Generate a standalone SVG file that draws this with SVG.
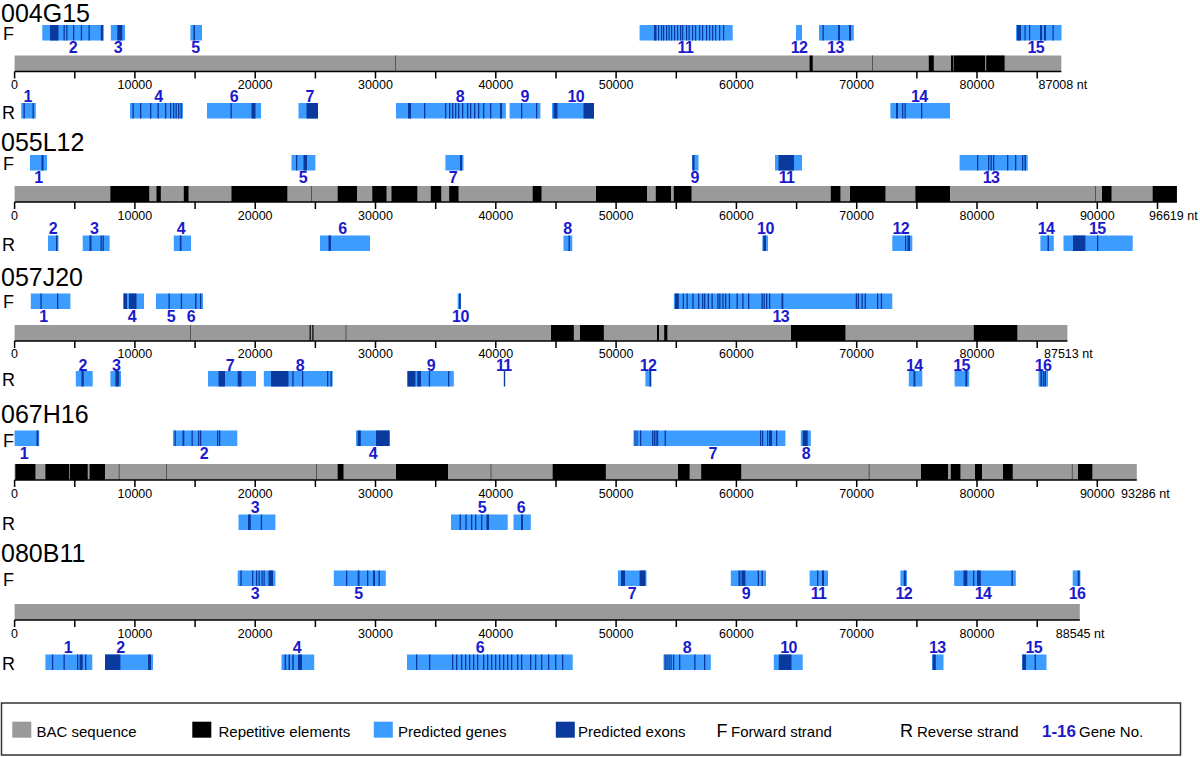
<svg xmlns="http://www.w3.org/2000/svg" width="1200" height="757" viewBox="0 0 1200 757">
<style>
text{font-family:"Liberation Sans",Arial,sans-serif;fill:#000}
.t{font-size:25px}
.s{font-size:18px}
.ax{font-size:12.5px;text-anchor:middle}
.axe{font-size:12.5px}
.n{font-size:16px;font-weight:bold;fill:#1a1acc;text-anchor:middle;letter-spacing:-0.6px}
.row rect{height:15.5px}
.bg rect{height:16px}
.g{fill:#3d9cff}
.e{fill:#0a3a9e}
.bar{fill:#9a9a9a}
.rep{fill:#000}
.thin{fill:#555}
.axis{stroke:#000;stroke-width:1.5;fill:none}
.lg{font-size:15px}
</style>

<!-- ============ 004G15 ============ -->
<g id="bac-004G15">
<text class="t" x="1" y="21.5">004G15</text>
<text class="s" x="3" y="39.5">F</text>
<text class="s" x="2" y="118.5">R</text>
<g class="bg" transform="translate(0,55.5)">
<rect class="bar" x="14.6" width="1046.7"/>
<rect class="thin" x="395" width="1"/>
<rect class="rep" x="809.6" width="3.1"/>
<rect class="thin" x="872" width="1"/>
<rect class="rep" x="928.8" width="5"/>
<rect class="rep" x="951" width="2"/>
<rect class="rep" x="953.6" width="31.5"/>
<rect class="rep" x="986.2" width="18.4"/>
</g>
<g transform="translate(0,71.5)">
<path class="axis" d="M14.6 0H1061.3M14.6 0v7M74.8 0v7M134.9 0v7M195.1 0v7M255.2 0v7M315.4 0v7M375.5 0v7M435.7 0v7M495.8 0v7M556 0v7M616.1 0v7M676.3 0v7M736.4 0v7M796.6 0v7M856.7 0v7M916.9 0v7M977 0v7M1037.2 0v7"/>
<text class="ax" x="14.6" y="17.5">0</text><text class="ax" x="134.9" y="17.5">10000</text><text class="ax" x="255.2" y="17.5">20000</text><text class="ax" x="375.5" y="17.5">30000</text><text class="ax" x="495.8" y="17.5">40000</text><text class="ax" x="616.1" y="17.5">50000</text><text class="ax" x="736.4" y="17.5">60000</text><text class="ax" x="856.7" y="17.5">70000</text><text class="ax" x="977" y="17.5">80000</text>
<text class="axe" x="1038.5" y="17.5">87008 nt</text>
</g>
<g class="row" transform="translate(0,25)">
<g id="g004G15-F2"><rect class="g" x="42.3" width="61.5"/><rect class="e" x="50" width="8.5"/><rect class="e" x="63.5" width="1.3"/><rect class="e" x="66.2" width="1.3"/><rect class="e" x="73" width="1.3"/><rect class="e" x="80.8" width="1.3"/><rect class="e" x="88.5" width="1.3"/><rect class="e" x="100.8" width="2.2"/><text class="n" x="73" y="28">2</text></g>
<g id="g004G15-F3"><rect class="g" x="110.8" width="14.2"/><rect class="e" x="117.3" width="5"/><text class="n" x="118" y="28">3</text></g>
<g id="g004G15-F5"><rect class="g" x="190.4" width="11.6"/><rect class="e" x="193.5" width="1.5"/><text class="n" x="195.4" y="28">5</text></g>
<g id="g004G15-F11"><rect class="g" x="639.6" width="93.1"/><rect class="e" x="654" width="2.5"/><rect class="e" x="658" width="1.2"/><rect class="e" x="661" width="1.2"/><rect class="e" x="663" width="1.2"/><rect class="e" x="666" width="1.2"/><rect class="e" x="668.5" width="1.2"/><rect class="e" x="671" width="1.2"/><rect class="e" x="674" width="1.2"/><rect class="e" x="677" width="1.2"/><rect class="e" x="680" width="1.2"/><rect class="e" x="682" width="1.2"/><rect class="e" x="686" width="1.2"/><rect class="e" x="688.5" width="1.2"/><rect class="e" x="692" width="1.2"/><rect class="e" x="695" width="1.2"/><rect class="e" x="699" width="1.2"/><rect class="e" x="702" width="1.2"/><rect class="e" x="706" width="1.2"/><rect class="e" x="709" width="1.2"/><rect class="e" x="712" width="1.2"/><rect class="e" x="715" width="1.2"/><rect class="e" x="719" width="1.2"/><rect class="e" x="723" width="1.2"/><text class="n" x="685.4" y="28">11</text></g>
<g id="g004G15-F12"><rect class="g" x="796" width="6"/><text class="n" x="799" y="28">12</text></g>
<g id="g004G15-F13"><rect class="g" x="819" width="34.8"/><rect class="e" x="822.5" width="1.3"/><rect class="e" x="838" width="2"/><rect class="e" x="849" width="2"/><text class="n" x="835.4" y="28">13</text></g>
<g id="g004G15-F15"><rect class="g" x="1016" width="45.5"/><rect class="e" x="1017" width="4"/><rect class="e" x="1024.5" width="1.2"/><rect class="e" x="1029" width="1.2"/><rect class="e" x="1040" width="2"/><rect class="e" x="1044" width="2"/><rect class="e" x="1052.5" width="1.2"/><text class="n" x="1035.8" y="28">15</text></g>
</g>
<g class="row" transform="translate(0,103)">
<g id="g004G15-R1"><rect class="g" x="21.2" width="14.6"/><rect class="e" x="23.5" width="1.3"/><rect class="e" x="32.5" width="1.3"/><text class="n" x="27.7" y="-1.5">1</text></g>
<g id="g004G15-R4"><rect class="g" x="130" width="53"/><rect class="e" x="132.5" width="1.3"/><rect class="e" x="140" width="1.3"/><rect class="e" x="150" width="1.3"/><rect class="e" x="157.5" width="1.3"/><rect class="e" x="165" width="1.3"/><rect class="e" x="170" width="1.3"/><rect class="e" x="173" width="1.3"/><rect class="e" x="175.5" width="1.3"/><rect class="e" x="178" width="1.3"/><rect class="e" x="180.5" width="1.3"/><text class="n" x="158.5" y="-1.5">4</text></g>
<g id="g004G15-R6"><rect class="g" x="207" width="54"/><rect class="e" x="230.5" width="1.3"/><rect class="e" x="251.5" width="4"/><text class="n" x="234" y="-1.5">6</text></g>
<g id="g004G15-R7"><rect class="g" x="298.5" width="19.5"/><rect class="e" x="306.5" width="11.5"/><text class="n" x="309.6" y="-1.5">7</text></g>
<g id="g004G15-R8"><rect class="g" x="396" width="109.8"/><rect class="e" x="408" width="3"/><rect class="e" x="424" width="1.3"/><rect class="e" x="445" width="1.3"/><rect class="e" x="449" width="1.3"/><rect class="e" x="452" width="1.3"/><rect class="e" x="455" width="1.3"/><rect class="e" x="458" width="1.3"/><rect class="e" x="462" width="1.3"/><rect class="e" x="467" width="1.3"/><rect class="e" x="470" width="1.3"/><rect class="e" x="474" width="1.3"/><rect class="e" x="478" width="1.3"/><rect class="e" x="483" width="1.3"/><rect class="e" x="490" width="1.3"/><rect class="e" x="500" width="2"/><text class="n" x="460" y="-1.5">8</text></g>
<g id="g004G15-R9"><rect class="g" x="509.6" width="30.8"/><rect class="e" x="521" width="1.3"/><rect class="e" x="536" width="1.3"/><text class="n" x="524.6" y="-1.5">9</text></g>
<g id="g004G15-R10"><rect class="g" x="552" width="42"/><rect class="e" x="553.5" width="4"/><rect class="e" x="583.5" width="10.5"/><text class="n" x="575.8" y="-1.5">10</text></g>
<g id="g004G15-R14"><rect class="g" x="890.4" width="59.6"/><rect class="e" x="896" width="2"/><rect class="e" x="902" width="1.3"/><rect class="e" x="904.5" width="1.3"/><rect class="e" x="921" width="1.3"/><text class="n" x="919.2" y="-1.5">14</text></g>
</g>
</g>

<!-- ============ 055L12 ============ -->
<g id="bac-055L12">
<text class="t" x="1" y="150.5">055L12</text>
<text class="s" x="3" y="170">F</text>
<text class="s" x="2" y="251">R</text>
<g class="bg" transform="translate(0,186)">
<rect class="bar" x="14.6" width="1162.3"/>
<rect class="rep" x="110.4" width="38.8"/>
<rect class="rep" x="156.5" width="4.3"/>
<rect class="rep" x="183.8" width="4.7"/>
<rect class="rep" x="231.5" width="55.8"/>
<rect class="thin" x="311" width="1"/>
<rect class="rep" x="337.7" width="19.3"/>
<rect class="rep" x="372.3" width="14.2"/>
<rect class="rep" x="391.5" width="25.8"/>
<rect class="rep" x="430.8" width="10.4"/>
<rect class="rep" x="449.2" width="9.3"/>
<rect class="rep" x="532.7" width="8.8"/>
<rect class="rep" x="596" width="51"/>
<rect class="rep" x="655.8" width="15.2"/>
<rect class="rep" x="673.8" width="17.7"/>
<rect class="rep" x="830.8" width="9.6"/>
<rect class="rep" x="850" width="35.4"/>
<rect class="rep" x="915.4" width="34.6"/>
<rect class="thin" x="1095" width="1"/>
<rect class="rep" x="1102" width="9.5"/>
<rect class="rep" x="1152.7" width="24.2"/>
</g>
<g transform="translate(0,202)">
<path class="axis" d="M14.6 0H1176.9M14.6 0v7M74.8 0v7M134.9 0v7M195.1 0v7M255.2 0v7M315.4 0v7M375.5 0v7M435.7 0v7M495.8 0v7M556 0v7M616.1 0v7M676.3 0v7M736.4 0v7M796.6 0v7M856.7 0v7M916.9 0v7M977 0v7M1037.2 0v7M1097.3 0v7M1157.5 0v7"/>
<text class="ax" x="14.6" y="17.5">0</text><text class="ax" x="134.9" y="17.5">10000</text><text class="ax" x="255.2" y="17.5">20000</text><text class="ax" x="375.5" y="17.5">30000</text><text class="ax" x="495.8" y="17.5">40000</text><text class="ax" x="616.1" y="17.5">50000</text><text class="ax" x="736.4" y="17.5">60000</text><text class="ax" x="856.7" y="17.5">70000</text><text class="ax" x="977" y="17.5">80000</text><text class="ax" x="1097.3" y="17.5">90000</text>
<text class="axe" x="1149" y="17.5">96619 nt</text>
</g>
<g class="row" transform="translate(0,155)">
<g id="g055L12-F1"><rect class="g" x="30" width="17"/><rect class="e" x="41.5" width="2"/><text class="n" x="38.5" y="28">1</text></g>
<g id="g055L12-F5"><rect class="g" x="291.5" width="23.9"/><rect class="e" x="296" width="1.3"/><rect class="e" x="303.5" width="3.5"/><text class="n" x="303" y="28">5</text></g>
<g id="g055L12-F7"><rect class="g" x="445.4" width="18.1"/><rect class="e" x="460" width="2"/><text class="n" x="453" y="28">7</text></g>
<g id="g055L12-F9"><rect class="g" x="692.3" width="6.2"/><rect class="e" x="692.3" width="2.2"/><text class="n" x="694.6" y="28">9</text></g>
<g id="g055L12-F11"><rect class="g" x="775" width="27"/><rect class="e" x="778.5" width="15.5"/><text class="n" x="786.5" y="28">11</text></g>
<g id="g055L12-F13"><rect class="g" x="959.6" width="68.1"/><rect class="e" x="977" width="1.3"/><rect class="e" x="988" width="1.3"/><rect class="e" x="990.5" width="1.3"/><rect class="e" x="993" width="1.3"/><rect class="e" x="1007" width="1.3"/><rect class="e" x="1015" width="1.3"/><rect class="e" x="1022" width="1.3"/><rect class="e" x="1024.5" width="1.5"/><text class="n" x="991" y="28">13</text></g>
</g>
<g class="row" transform="translate(0,235.5)">
<g id="g055L12-R2"><rect class="g" x="48" width="10.5"/><rect class="e" x="56" width="1.5"/><text class="n" x="53" y="-1.5">2</text></g>
<g id="g055L12-R3"><rect class="g" x="82.7" width="26.9"/><rect class="e" x="89.5" width="2"/><rect class="e" x="100.5" width="1.3"/><rect class="e" x="102.5" width="1.3"/><text class="n" x="94.2" y="-1.5">3</text></g>
<g id="g055L12-R4"><rect class="g" x="173.8" width="17.2"/><rect class="e" x="179.8" width="1.7"/><text class="n" x="180.8" y="-1.5">4</text></g>
<g id="g055L12-R6"><rect class="g" x="320" width="50"/><rect class="e" x="328.5" width="2.5"/><text class="n" x="342.3" y="-1.5">6</text></g>
<g id="g055L12-R8"><rect class="g" x="563.5" width="8.8"/><rect class="e" x="568.5" width="1.5"/><text class="n" x="567.3" y="-1.5">8</text></g>
<g id="g055L12-R10"><rect class="g" x="762.3" width="5.7"/><rect class="e" x="763.3" width="2.7"/><text class="n" x="765.4" y="-1.5">10</text></g>
<g id="g055L12-R12"><rect class="g" x="892.3" width="20"/><rect class="e" x="905" width="1.2"/><rect class="e" x="907.5" width="2.5"/><text class="n" x="900.8" y="-1.5">12</text></g>
<g id="g055L12-R14"><rect class="g" x="1040.4" width="13.4"/><rect class="e" x="1047.5" width="1.5"/><text class="n" x="1046" y="-1.5">14</text></g>
<g id="g055L12-R15"><rect class="g" x="1063.5" width="69.2"/><rect class="e" x="1073" width="12.4"/><rect class="e" x="1097" width="1.3"/><text class="n" x="1097.3" y="-1.5">15</text></g>
</g>
</g>

<!-- ============ 057J20 ============ -->
<g id="bac-057J20">
<text class="t" x="1" y="286">057J20</text>
<text class="s" x="3" y="308">F</text>
<text class="s" x="2" y="386">R</text>
<g class="bg" transform="translate(0,325)">
<rect class="bar" x="14.6" width="1052.8"/>
<rect class="thin" x="190" width="1"/>
<rect class="rep" x="309.6" width="1.2"/>
<rect class="rep" x="312.3" width="1.2"/>
<rect class="thin" x="345.5" width="1"/>
<rect class="rep" x="551" width="22.8"/>
<rect class="rep" x="580" width="23.8"/>
<rect class="rep" x="657" width="2"/>
<rect class="rep" x="664.2" width="3.1"/>
<rect class="rep" x="791" width="54.4"/>
<rect class="rep" x="973.8" width="43.5"/>
</g>
<g transform="translate(0,341)">
<path class="axis" d="M14.6 0H1067.4M14.6 0v7M74.8 0v7M134.9 0v7M195.1 0v7M255.2 0v7M315.4 0v7M375.5 0v7M435.7 0v7M495.8 0v7M556 0v7M616.1 0v7M676.3 0v7M736.4 0v7M796.6 0v7M856.7 0v7M916.9 0v7M977 0v7M1037.2 0v7"/>
<text class="ax" x="14.6" y="17">0</text><text class="ax" x="134.9" y="17">10000</text><text class="ax" x="255.2" y="17">20000</text><text class="ax" x="375.5" y="17">30000</text><text class="ax" x="495.8" y="17">40000</text><text class="ax" x="616.1" y="17">50000</text><text class="ax" x="736.4" y="17">60000</text><text class="ax" x="856.7" y="17">70000</text><text class="ax" x="977" y="17">80000</text>
<text class="axe" x="1044" y="17">87513 nt</text>
</g>
<g class="row" transform="translate(0,293.5)">
<g id="g057J20-F1"><rect class="g" x="30.8" width="39.6"/><rect class="e" x="40.4" width="1.3"/><rect class="e" x="57" width="1.3"/><text class="n" x="43.5" y="28">1</text></g>
<g id="g057J20-F4"><rect class="g" x="123" width="21"/><rect class="e" x="123.8" width="3.2"/><rect class="e" x="129" width="7.5"/><text class="n" x="132" y="28">4</text></g>
<g id="g057J20-F5"><rect class="g" x="156" width="29"/><rect class="e" x="168.5" width="1.3"/><rect class="e" x="180.8" width="1.3"/><text class="n" x="171" y="28">5</text></g>
<g id="g057J20-F6"><rect class="g" x="185" width="18"/><rect class="e" x="195" width="1.5"/><rect class="e" x="200" width="1.3"/><text class="n" x="191" y="28">6</text></g>
<g id="g057J20-F10"><rect class="g" x="457.7" width="3.1"/><rect class="e" x="459" width="1.8"/><text class="n" x="460.4" y="28">10</text></g>
<g id="g057J20-F13"><rect class="g" x="673.8" width="218.5"/><rect class="e" x="675" width="3.8"/><rect class="e" x="682.7" width="1.3"/><rect class="e" x="686.5" width="1.3"/><rect class="e" x="692.3" width="1.3"/><rect class="e" x="698" width="1.3"/><rect class="e" x="702" width="1.3"/><rect class="e" x="704" width="1.3"/><rect class="e" x="707.7" width="1.3"/><rect class="e" x="711.5" width="1.3"/><rect class="e" x="717.3" width="1.3"/><rect class="e" x="719.2" width="1.3"/><rect class="e" x="722.3" width="1.3"/><rect class="e" x="725" width="1.3"/><rect class="e" x="728.8" width="1.3"/><rect class="e" x="736.5" width="1.3"/><rect class="e" x="742.3" width="1.3"/><rect class="e" x="748" width="1.3"/><rect class="e" x="761.5" width="1.3"/><rect class="e" x="763.5" width="1.3"/><rect class="e" x="766" width="1.3"/><rect class="e" x="769" width="1.3"/><rect class="e" x="781.5" width="1.8"/><rect class="e" x="855.8" width="1.3"/><rect class="e" x="857.7" width="1.3"/><rect class="e" x="861.5" width="1.3"/><rect class="e" x="864.6" width="1.3"/><rect class="e" x="877" width="1.3"/><rect class="e" x="880.8" width="1.3"/><text class="n" x="780.8" y="28">13</text></g>
</g>
<g class="row" transform="translate(0,371)">
<g id="g057J20-R2"><rect class="g" x="75.8" width="16.9"/><rect class="e" x="81.5" width="2.3"/><text class="n" x="82.7" y="-0.5">2</text></g>
<g id="g057J20-R3"><rect class="g" x="110.4" width="10.6"/><rect class="e" x="115.4" width="3.8"/><text class="n" x="116.2" y="-0.5">3</text></g>
<g id="g057J20-R7"><rect class="g" x="208" width="48"/><rect class="e" x="218.5" width="6.5"/><rect class="e" x="237.7" width="3.8"/><text class="n" x="230" y="-0.5">7</text></g>
<g id="g057J20-R8"><rect class="g" x="263.8" width="68.9"/><rect class="e" x="271" width="17.5"/><rect class="e" x="292.3" width="1.3"/><rect class="e" x="302" width="1.3"/><rect class="e" x="327" width="1.3"/><rect class="e" x="330.5" width="1.3"/><text class="n" x="300" y="-0.5">8</text></g>
<g id="g057J20-R9"><rect class="g" x="407" width="46.8"/><rect class="e" x="407.7" width="7.7"/><rect class="e" x="417.3" width="3.7"/><rect class="e" x="428.8" width="1.3"/><rect class="e" x="448" width="1.3"/><text class="n" x="430.8" y="-0.5">9</text></g>
<g id="g057J20-R11"><rect class="e" x="503.8" width="1.4"/><text class="n" x="503.8" y="-0.5">11</text></g>
<g id="g057J20-R12"><rect class="g" x="645.4" width="5.8"/><rect class="e" x="649.5" width="1.7"/><text class="n" x="648" y="-0.5">12</text></g>
<g id="g057J20-R14"><rect class="g" x="908.8" width="13.5"/><rect class="e" x="913.5" width="1.9"/><text class="n" x="914.2" y="-0.5">14</text></g>
<g id="g057J20-R15"><rect class="g" x="954.6" width="14.6"/><rect class="e" x="965.4" width="1.9"/><text class="n" x="961.5" y="-0.5">15</text></g>
<g id="g057J20-R16"><rect class="g" x="1038.5" width="9.5"/><rect class="e" x="1040.4" width="1.8"/><rect class="e" x="1043" width="1.3"/><rect class="e" x="1044.6" width="1.4"/><text class="n" x="1043" y="-0.5">16</text></g>
</g>
</g>

<!-- ============ 067H16 ============ -->
<g id="bac-067H16">
<text class="t" x="1" y="422.5">067H16</text>
<text class="s" x="3" y="446.5">F</text>
<text class="s" x="2" y="530">R</text>
<g class="bg" transform="translate(0,464)">
<rect class="bar" x="14.6" width="1122.2"/>
<rect class="rep" x="15.4" width="20"/>
<rect class="rep" x="45.4" width="23.8"/>
<rect class="rep" x="70" width="17.7"/>
<rect class="rep" x="89.6" width="15.4"/>
<rect class="thin" x="118.7" width="1"/>
<rect class="thin" x="166" width="1"/>
<rect class="thin" x="316" width="1"/>
<rect class="rep" x="337.7" width="5.8"/>
<rect class="rep" x="396" width="52"/>
<rect class="thin" x="490.5" width="1"/>
<rect class="rep" x="552.7" width="53.1"/>
<rect class="rep" x="678" width="11.6"/>
<rect class="rep" x="701.2" width="40"/>
<rect class="thin" x="868.7" width="1"/>
<rect class="rep" x="921" width="27"/>
<rect class="rep" x="950.8" width="9.6"/>
<rect class="rep" x="975" width="7"/>
<rect class="rep" x="1003" width="9.7"/>
<rect class="thin" x="1071.8" width="1"/>
<rect class="rep" x="1078" width="14.3"/>
</g>
<g transform="translate(0,480)">
<path class="axis" d="M14.6 0H1136.8M14.6 0v7M74.8 0v7M134.9 0v7M195.1 0v7M255.2 0v7M315.4 0v7M375.5 0v7M435.7 0v7M495.8 0v7M556 0v7M616.1 0v7M676.3 0v7M736.4 0v7M796.6 0v7M856.7 0v7M916.9 0v7M977 0v7M1037.2 0v7M1097.3 0v7"/>
<text class="ax" x="14.6" y="17.5">0</text><text class="ax" x="134.9" y="17.5">10000</text><text class="ax" x="255.2" y="17.5">20000</text><text class="ax" x="375.5" y="17.5">30000</text><text class="ax" x="495.8" y="17.5">40000</text><text class="ax" x="616.1" y="17.5">50000</text><text class="ax" x="736.4" y="17.5">60000</text><text class="ax" x="856.7" y="17.5">70000</text><text class="ax" x="977" y="17.5">80000</text><text class="ax" x="1097.3" y="17.5">90000</text>
<text class="axe" x="1121" y="17.5">93286 nt</text>
</g>
<g class="row" transform="translate(0,430.5)">
<g id="g067H16-F1"><rect class="g" x="14.6" width="24.6"/><rect class="e" x="36.5" width="2"/><text class="n" x="23.8" y="28">1</text></g>
<g id="g067H16-F2"><rect class="g" x="173" width="64.3"/><rect class="e" x="174.5" width="1.3"/><rect class="e" x="182.5" width="1.8"/><rect class="e" x="191.5" width="1.3"/><rect class="e" x="198" width="1.3"/><rect class="e" x="200" width="1.3"/><rect class="e" x="217" width="1.3"/><rect class="e" x="219" width="1.3"/><text class="n" x="203.8" y="28">2</text></g>
<g id="g067H16-F4"><rect class="g" x="356" width="33.6"/><rect class="e" x="357.7" width="3.1"/><rect class="e" x="376" width="13.6"/><text class="n" x="373" y="28">4</text></g>
<g id="g067H16-F7"><rect class="g" x="633.5" width="151.9"/><rect class="e" x="634.5" width="1"/><rect class="e" x="636.5" width="1"/><rect class="e" x="640" width="1.3"/><rect class="e" x="652" width="1.2"/><rect class="e" x="653.8" width="1.2"/><rect class="e" x="655.5" width="1.2"/><rect class="e" x="657" width="1.2"/><rect class="e" x="664.6" width="1.3"/><rect class="e" x="760" width="1.2"/><rect class="e" x="762" width="1.2"/><rect class="e" x="767" width="1.2"/><rect class="e" x="769" width="3"/><rect class="e" x="776" width="1.3"/><text class="n" x="712.7" y="28">7</text></g>
<g id="g067H16-F8"><rect class="g" x="800.8" width="10"/><rect class="e" x="802.7" width="5"/><text class="n" x="805.8" y="28">8</text></g>
</g>
<g class="row" transform="translate(0,514.5)">
<g id="g067H16-R3"><rect class="g" x="238.5" width="36.9"/><rect class="e" x="248" width="2.8"/><rect class="e" x="260.8" width="1.3"/><text class="n" x="255" y="-2">3</text></g>
<g id="g067H16-R5"><rect class="g" x="451" width="56.7"/><rect class="e" x="459.6" width="1.3"/><rect class="e" x="465.4" width="1.3"/><rect class="e" x="471" width="1.3"/><rect class="e" x="475" width="1.3"/><rect class="e" x="481" width="1.3"/><rect class="e" x="486.5" width="2.5"/><text class="n" x="482" y="-2">5</text></g>
<g id="g067H16-R6"><rect class="g" x="513.5" width="17.3"/><rect class="e" x="521" width="2"/><text class="n" x="521" y="-2">6</text></g>
</g>
</g>

<!-- ============ 080B11 ============ -->
<g id="bac-080B11">
<text class="t" x="1" y="562">080B11</text>
<text class="s" x="3" y="586">F</text>
<text class="s" x="2" y="669.5">R</text>
<g class="bg" transform="translate(0,604)">
<rect class="bar" x="14.6" width="1065.2"/>
</g>
<g transform="translate(0,620)">
<path class="axis" d="M14.6 0H1079.8M14.6 0v7M74.8 0v7M134.9 0v7M195.1 0v7M255.2 0v7M315.4 0v7M375.5 0v7M435.7 0v7M495.8 0v7M556 0v7M616.1 0v7M676.3 0v7M736.4 0v7M796.6 0v7M856.7 0v7M916.9 0v7M977 0v7M1037.2 0v7"/>
<text class="ax" x="14.6" y="17.5">0</text><text class="ax" x="134.9" y="17.5">10000</text><text class="ax" x="255.2" y="17.5">20000</text><text class="ax" x="375.5" y="17.5">30000</text><text class="ax" x="495.8" y="17.5">40000</text><text class="ax" x="616.1" y="17.5">50000</text><text class="ax" x="736.4" y="17.5">60000</text><text class="ax" x="856.7" y="17.5">70000</text><text class="ax" x="977" y="17.5">80000</text>
<text class="axe" x="1055.8" y="17.5">88545 nt</text>
</g>
<g class="row" transform="translate(0,570.5)">
<g id="g080B11-F3"><rect class="g" x="237.7" width="37.7"/><rect class="e" x="240.4" width="1.3"/><rect class="e" x="252" width="1.2"/><rect class="e" x="256" width="1.2"/><rect class="e" x="258.5" width="1.2"/><rect class="e" x="261.5" width="1.2"/><rect class="e" x="263.5" width="1.2"/><rect class="e" x="268.5" width="4.5"/><text class="n" x="255" y="28">3</text></g>
<g id="g080B11-F5"><rect class="g" x="333.8" width="52"/><rect class="e" x="346" width="1.3"/><rect class="e" x="357.7" width="1.8"/><rect class="e" x="367" width="1.3"/><rect class="e" x="373" width="2"/><rect class="e" x="378.5" width="1.3"/><text class="n" x="358.5" y="28">5</text></g>
<g id="g080B11-F7"><rect class="g" x="618" width="28.5"/><rect class="e" x="621" width="4"/><rect class="e" x="639.6" width="5.8"/><text class="n" x="632" y="28">7</text></g>
<g id="g080B11-F9"><rect class="g" x="730.8" width="35.2"/><rect class="e" x="738.5" width="2"/><rect class="e" x="741.5" width="3.9"/><rect class="e" x="757.7" width="1.3"/><rect class="e" x="761.5" width="1.3"/><text class="n" x="746" y="28">9</text></g>
<g id="g080B11-F11"><rect class="g" x="809.6" width="18.4"/><rect class="e" x="817" width="1.3"/><rect class="e" x="822" width="2"/><text class="n" x="818.5" y="28">11</text></g>
<g id="g080B11-F12"><rect class="g" x="900.4" width="6.6"/><rect class="e" x="903.8" width="2"/><text class="n" x="903.8" y="28">12</text></g>
<g id="g080B11-F14"><rect class="g" x="954.2" width="61.6"/><rect class="e" x="963.5" width="3.8"/><rect class="e" x="973" width="1.3"/><rect class="e" x="977" width="3.8"/><rect class="e" x="1011.5" width="1.3"/><text class="n" x="983" y="28">14</text></g>
<g id="g080B11-F16"><rect class="g" x="1072.7" width="7.7"/><rect class="e" x="1077.7" width="1.9"/><text class="n" x="1077" y="28">16</text></g>
</g>
<g class="row" transform="translate(0,654.5)">
<g id="g080B11-R1"><rect class="g" x="45.4" width="46.9"/><rect class="e" x="51.9" width="1.3"/><rect class="e" x="63.5" width="1.3"/><rect class="e" x="77" width="1.3"/><rect class="e" x="79.6" width="3.1"/><rect class="e" x="85" width="1.3"/><text class="n" x="68" y="-1.5">1</text></g>
<g id="g080B11-R2"><rect class="g" x="105" width="48"/><rect class="e" x="105" width="15.4"/><rect class="e" x="148" width="3"/><text class="n" x="120.4" y="-1.5">2</text></g>
<g id="g080B11-R4"><rect class="g" x="281.5" width="32.7"/><rect class="e" x="284.6" width="1.5"/><rect class="e" x="288.5" width="1.5"/><rect class="e" x="292.3" width="1.5"/><rect class="e" x="298" width="4"/><text class="n" x="297" y="-1.5">4</text></g>
<g id="g080B11-R6"><rect class="g" x="407" width="165.7"/><rect class="e" x="416" width="1.3"/><rect class="e" x="429" width="1.3"/><rect class="e" x="452" width="1.3"/><rect class="e" x="456" width="1.3"/><rect class="e" x="461" width="1.3"/><rect class="e" x="465" width="1.3"/><rect class="e" x="469" width="1.3"/><rect class="e" x="473" width="1.3"/><rect class="e" x="477" width="1.3"/><rect class="e" x="483" width="1.3"/><rect class="e" x="487" width="1.3"/><rect class="e" x="491" width="1.3"/><rect class="e" x="495" width="1.3"/><rect class="e" x="499" width="1.3"/><rect class="e" x="503" width="1.3"/><rect class="e" x="507" width="1.3"/><rect class="e" x="511" width="1.3"/><rect class="e" x="517" width="1.3"/><rect class="e" x="521" width="1.3"/><rect class="e" x="530" width="1.3"/><rect class="e" x="535" width="1.3"/><rect class="e" x="541" width="1.3"/><rect class="e" x="548" width="1.3"/><rect class="e" x="555" width="1.3"/><rect class="e" x="562" width="1.3"/><text class="n" x="480" y="-1.5">6</text></g>
<g id="g080B11-R8"><rect class="g" x="663.5" width="47.3"/><rect class="e" x="664.6" width="1.2"/><rect class="e" x="666.5" width="1.2"/><rect class="e" x="668.5" width="1.2"/><rect class="e" x="670.5" width="1.2"/><rect class="e" x="673" width="1.2"/><rect class="e" x="679" width="1.3"/><rect class="e" x="694.2" width="1.3"/><rect class="e" x="704" width="1.3"/><text class="n" x="687" y="-1.5">8</text></g>
<g id="g080B11-R10"><rect class="g" x="773.8" width="28.9"/><rect class="e" x="778.8" width="12.7"/><text class="n" x="788.5" y="-1.5">10</text></g>
<g id="g080B11-R13"><rect class="g" x="932" width="11.5"/><rect class="e" x="932.7" width="3.1"/><text class="n" x="937.3" y="-1.5">13</text></g>
<g id="g080B11-R15"><rect class="g" x="1022.3" width="24.2"/><rect class="e" x="1022.3" width="3.7"/><rect class="e" x="1034.6" width="1.4"/><text class="n" x="1033.8" y="-1.5">15</text></g>
</g>
</g>

<!-- ============ Legend ============ -->
<g id="legend">
<rect x="1.5" y="703" width="1179" height="52" fill="#fff" stroke="#333" stroke-width="1.5"/>
<rect class="bar" x="12.3" y="721.7" width="19" height="16"/>
<text class="lg" x="36.5" y="736.5">BAC sequence</text>
<rect class="rep" x="192.3" y="721.7" width="19" height="16"/>
<text class="lg" x="218.5" y="736.5">Repetitive elements</text>
<rect class="g" x="373.8" y="721.7" width="19" height="16"/>
<text class="lg" x="398" y="736.5">Predicted genes</text>
<rect class="e" x="555.8" y="721.7" width="19" height="16"/>
<text class="lg" x="578" y="736.5">Predicted exons</text>
<text class="s" x="716.5" y="737">F</text>
<text class="lg" x="731" y="736.5">Forward strand</text>
<text class="s" x="900" y="737">R</text>
<text class="lg" x="917" y="736.5">Reverse strand</text>
<text x="1042" y="737" style="font-size:17px;font-weight:bold;fill:#1a1acc">1-16</text>
<text class="lg" x="1079" y="736.5">Gene No.</text>
</g>
</svg>
